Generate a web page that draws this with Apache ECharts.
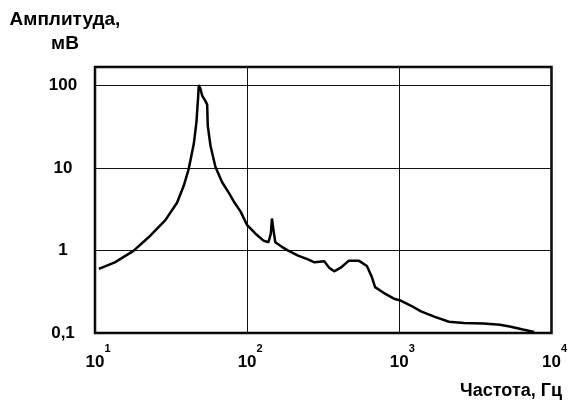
<!DOCTYPE html>
<html>
<head>
<meta charset="utf-8">
<script src="https://cdn.jsdelivr.net/npm/echarts@6/dist/echarts.min.js"></script>
<style>
html,body{margin:0;padding:0;background:#fff;}
#chart{width:570px;height:400px;}
</style>
</head>
<body>
<div id="chart"></div>
<script>
// Frequency, Hz
const freq = [10.6, 13.5, 17.9, 22.5, 29, 34.6, 38.3, 41.3, 44.6, 46.4, 47.6, 48.1, 49.3, 50.6, 53.2, 54.6, 55.1, 57.4, 61.9, 68.6, 75.8, 82.7, 90.6, 100, 113.5, 128, 138, 143, 145.5, 149, 153, 169, 186, 216, 251, 277, 321, 346, 373, 412, 466, 541, 612, 659, 693, 805, 934, 1006, 1196, 1388, 1695, 2120, 2650, 3570, 4580, 5310, 6490, 7700];
// Amplitude, mV
const amp = [0.6, 0.72, 0.99, 1.45, 2.34, 3.8, 6.1, 9.8, 19.7, 36, 72, 102, 92, 76, 65, 59, 32.5, 18.7, 10.3, 6.7, 5.0, 3.8, 2.97, 2.03, 1.6, 1.32, 1.26, 1.6, 2.45, 1.76, 1.26, 1.11, 1.0, 0.87, 0.78, 0.72, 0.74, 0.62, 0.56, 0.62, 0.755, 0.755, 0.65, 0.48, 0.36, 0.30, 0.258, 0.25, 0.214, 0.183, 0.158, 0.137, 0.132, 0.130, 0.126, 0.12, 0.11, 0.103];
// Tick labels
const xTickExp = {10: '1', 100: '2', 1000: '3', 10000: '4'};
const yTickLabels = {0.1: '0,1', 1: '1', 10: '10', 100: '100'};

const yTitle = 'Амплитуда,\nмВ';
const xTitle = 'Частота, Гц';

const FONT = '"Liberation Sans", Arial, sans-serif';
const chart = echarts.init(document.getElementById('chart'), null, {renderer: 'canvas'});

function nearestKey(map, v) {
  for (const k of Object.keys(map)) {
    const kv = parseFloat(k);
    if (Math.abs(Math.log10(v) - Math.log10(kv)) < 0.01) return k;
  }
  return null;
}

chart.setOption({
  animation: false,
  backgroundColor: '#fff',
  title: [
    {text: yTitle, left: 60, top: 3, textAlign: 'center',
     textStyle: {fontFamily: FONT, fontSize: 19, fontWeight: 'bold', color: '#000', lineHeight: 24}},
    {text: xTitle, right: 3, top: 376,
     textStyle: {fontFamily: FONT, fontSize: 18, fontWeight: 'bold', color: '#000', lineHeight: 20}}
  ],
  grid: {left: 95, right: 14, top: 67, bottom: 67, show: true, borderColor: '#000', borderWidth: 2.5, backgroundColor: 'transparent'},
  xAxis: {
    type: 'log', logBase: 10, min: 10, max: 10000,
    axisLine: {show: false},
    axisTick: {show: false},
    splitLine: {show: true, lineStyle: {color: '#111', width: 1}},
    axisLabel: {
      margin: 10,
      showMinLabel: true, showMaxLabel: true,
      formatter: function (v) {
        const k = nearestKey(xTickExp, v);
        if (!k) return '';
        return '{s|}{b|10}{e|' + xTickExp[k] + '}';
      },
      rich: {
        s: {width: 6, height: 26},
        b: {fontFamily: FONT, fontSize: 17, fontWeight: 'bold', color: '#000', lineHeight: 28, verticalAlign: 'bottom'},
        e: {fontFamily: FONT, fontSize: 11, fontWeight: 'bold', color: '#000', lineHeight: 28, verticalAlign: 'top'}
      }
    }
  },
  yAxis: {
    type: 'log', logBase: 10, min: 0.1, max: 168.6,
    axisLine: {show: false},
    axisTick: {show: false},
    splitLine: {show: true, lineStyle: {color: '#111', width: 1}},
    axisLabel: {
      margin: 32, align: 'center',
      fontFamily: FONT, fontSize: 17, fontWeight: 'bold', color: '#000',
      formatter: function (v) {
        const k = nearestKey(yTickLabels, v);
        return k ? yTickLabels[k] : '';
      }
    }
  },
  series: [{
    type: 'line',
    data: freq.map((f, i) => [f, amp[i]]),
    showSymbol: false,
    smooth: false,
    lineStyle: {color: '#000', width: 2.5},
    itemStyle: {color: '#000'}
  }]
});
</script>
</body>
</html>
